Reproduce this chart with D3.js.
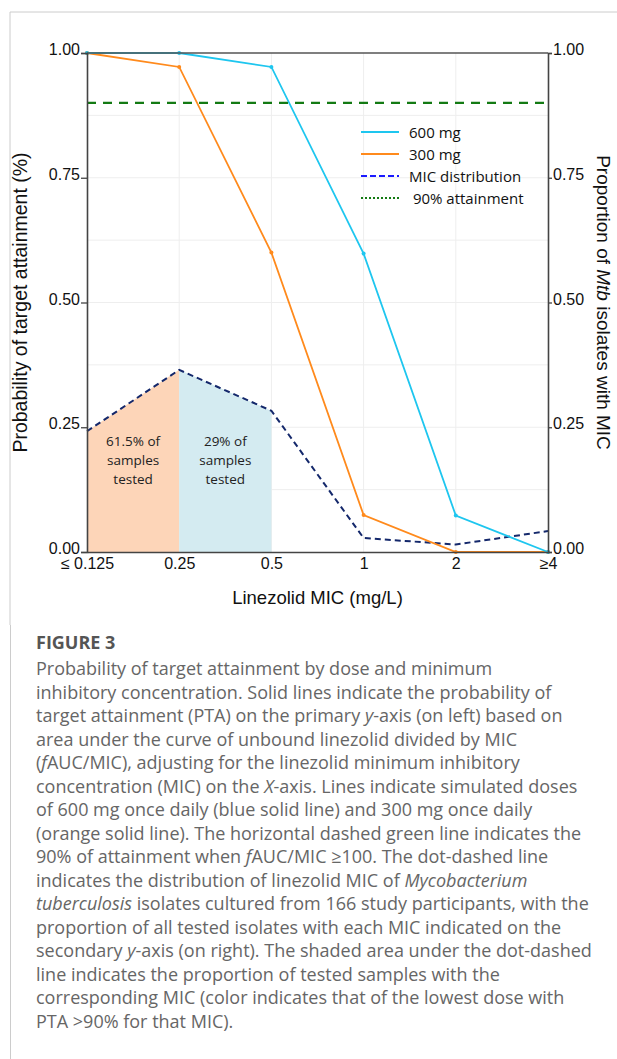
<!DOCTYPE html>
<head>
  <meta charset="utf-8">
  <script src="https://d3js.org/d3.v7.min.js"></script>
  <style>
    body { margin:0; background:#fff; }
    .caption { position:absolute; left:36px; top:631px; white-space:nowrap; font-family:"Open Sans", sans-serif; color:#666; font-size:18px; line-height:23.5px; }
    .caption b { color:#555; font-size:18px; display:block; margin-bottom:2.5px; }
  </style>
</head>
<body>
  <svg id="chart" width="617" height="625" style="position:absolute;left:0;top:0"></svg>
  <div class="caption">
    <b>FIGURE 3</b>
    Probability of target attainment by dose and minimum<br>
    inhibitory concentration. Solid lines indicate the probability of<br>
    target attainment (PTA) on the primary <i>y</i>-axis (on left) based on<br>
    area under the curve of unbound linezolid divided by MIC<br>
    (<i>f</i>AUC/MIC), adjusting for the linezolid minimum inhibitory<br>
    concentration (MIC) on the <i>X</i>-axis. Lines indicate simulated doses<br>
    of 600 mg once daily (blue solid line) and 300 mg once daily<br>
    (orange solid line). The horizontal dashed green line indicates the<br>
    90% of attainment when <i>f</i>AUC/MIC ≥100. The dot-dashed line<br>
    indicates the distribution of linezolid MIC of <i>Mycobacterium</i><br>
    <i>tuberculosis</i> isolates cultured from 166 study participants, with the<br>
    proportion of all tested isolates with each MIC indicated on the<br>
    secondary <i>y</i>-axis (on right). The shaded area under the dot-dashed<br>
    line indicates the proportion of tested samples with the<br>
    corresponding MIC (color indicates that of the lowest dose with<br>
    PTA &gt;90% for that MIC).
  </div>
  <script>

  var micLabels = ["≤ 0.125", "0.25", "0.5", "1", "2", "≥4"];
  var pta600 = [1.00, 1.00, 0.972, 0.598, 0.073, 0.00];
  var pta300 = [1.00, 0.972, 0.600, 0.074, 0.00, 0.00];
  var micDist = [0.242, 0.365, 0.283, 0.028, 0.015, 0.042];
  var target = 0.9;
  var yTicks = [0, 0.25, 0.5, 0.75, 1];
  var gridTicks = [0.125, 0.25, 0.375, 0.5, 0.625, 0.75, 0.875];
  var shadeLabels = [["61.5% of", "samples", "tested"], ["29% of", "samples", "tested"]];
  var legendItems = ["600 mg", "300 mg", "MIC distribution", " 90% attainment"];

  var margin = {top: 53, left: 87, right: 69, bottom: 73};
  var width = 617 - margin.left - margin.right;
  var height = 625 - margin.top - margin.bottom;

  var svg = d3.select("#chart");

  // page frame
  svg.append("line").attr("x1", 10).attr("x2", 10).attr("y1", 12).attr("y2", 1059).attr("stroke", "#ccc");
  svg.append("line").attr("x1", 10).attr("x2", 617).attr("y1", 12).attr("y2", 12).attr("stroke", "#ccc");
  d3.select("body").append("div")
    .style("position", "absolute").style("left", "10px").style("top", "625px")
    .style("width", "1px").style("height", "434px").style("background", "#ccc");

  var g = svg.append("g").attr("transform", "translate(" + margin.left + "," + margin.top + ")");

  var x = d3.scalePoint().domain(micLabels).range([0, width]);
  var y = d3.scaleLinear().domain([0, 1]).range([height, 0]);

  // faint grid
  g.selectAll(".hgrid").data(gridTicks).enter().append("line")
    .attr("x1", 0).attr("x2", width)
    .attr("y1", function(d) { return y(d); }).attr("y2", function(d) { return y(d); })
    .attr("stroke", "#eee");
  g.selectAll(".vgrid").data(micLabels.slice(1, -1)).enter().append("line")
    .attr("x1", function(d) { return x(d); }).attr("x2", function(d) { return x(d); })
    .attr("y1", 0).attr("y2", height)
    .attr("stroke", "#eee");

  // shaded areas under MIC distribution
  var shadeColors = ["#fdd5b8", "#d4ebf1"];
  [0, 1].forEach(function(i) {
    var pts = [[x(micLabels[i]), y(0)], [x(micLabels[i]), y(micDist[i])],
               [x(micLabels[i + 1]), y(micDist[i + 1])], [x(micLabels[i + 1]), y(0)]];
    g.append("path").attr("d", "M" + pts.join("L") + "Z").attr("fill", shadeColors[i]);
    var cx = (x(micLabels[i]) + x(micLabels[i + 1])) / 2;
    g.append("text")
      .attr("x", cx).attr("y", y(0.25) + 19)
      .attr("text-anchor", "middle")
      .style("font-family", "'Open Sans', sans-serif").style("font-size", "13.5px").attr("fill", "#222")
      .selectAll("tspan").data(shadeLabels[i]).enter().append("tspan")
      .attr("x", cx).attr("dy", function(d, j) { return j ? 19 : 0; })
      .text(function(d) { return d; });
  });

  var line = d3.line()
    .x(function(d, i) { return x(micLabels[i]); })
    .y(function(d) { return y(d); });

  // target line
  g.append("line").attr("x1", 0).attr("x2", width)
    .attr("y1", y(target)).attr("y2", y(target))
    .attr("stroke", "#137a13").attr("stroke-width", 2.2).attr("stroke-dasharray", "9,7");

  g.append("path").datum(micDist).attr("d", line)
    .attr("fill", "none").attr("stroke", "#14286b").attr("stroke-width", 2).attr("stroke-dasharray", "6,4");

  g.append("path").datum(pta300).attr("d", line)
    .attr("fill", "none").attr("stroke", "#ff8a1c").attr("stroke-width", 1.8);
  g.append("path").datum(pta600).attr("d", line)
    .attr("fill", "none").attr("stroke", "#1ec6ef").attr("stroke-width", 1.8);

  g.selectAll(".p300").data(pta300).enter().append("circle")
    .attr("cx", function(d, i) { return x(micLabels[i]); }).attr("cy", function(d) { return y(d); })
    .attr("r", 2).attr("fill", "#ff8a1c");
  g.selectAll(".p600").data(pta600).enter().append("circle")
    .attr("cx", function(d, i) { return x(micLabels[i]); }).attr("cy", function(d) { return y(d); })
    .attr("r", 2).attr("fill", "#1ec6ef");

  // frame: top border
  g.append("line").attr("x1", 0).attr("x2", width).attr("y1", 0).attr("y2", 0).attr("stroke", "#555").attr("stroke-width", 1.5);

  var fmt = d3.format(".2f");
  var axisLeft = g.append("g").call(d3.axisLeft(y).tickValues(yTicks).tickFormat(fmt).tickSize(6));
  var axisRight = g.append("g").attr("transform", "translate(" + width + ",0)")
    .call(d3.axisRight(y).tickValues(yTicks).tickFormat(fmt).tickSize(4));
  var axisBottom = g.append("g").attr("transform", "translate(0," + height + ")")
    .call(d3.axisBottom(x).tickSize(0));

  [axisLeft, axisRight, axisBottom].forEach(function(a) {
    a.attr("font-size", null).attr("font-family", null);
    a.selectAll("path").attr("stroke", "#444").attr("stroke-width", 1.6);
    a.selectAll("line").attr("stroke", "#444").attr("stroke-width", 1.3);
    a.selectAll("text").style("font-family", "'Liberation Sans', Arial, sans-serif").style("font-size", "16px").attr("fill", "#111");
  });
  axisLeft.selectAll("text").attr("x", -7).attr("dy", "0.1em");
  axisRight.selectAll("text").attr("x", 5).attr("dy", "0.1em");
  axisBottom.selectAll("text").attr("y", 4).attr("dy", "0.8em");

  // axis titles
  svg.append("text")
    .attr("transform", "translate(27," + (margin.top + height / 2) + ") rotate(-90)")
    .attr("text-anchor", "middle")
    .style("font-family", "'Liberation Sans', Arial, sans-serif").style("font-size", "19.5px").attr("fill", "#111")
    .text("Probability of target attainment (%)");

  var rt = svg.append("text")
    .attr("transform", "translate(597," + (margin.top + height / 2) + ") rotate(90)")
    .attr("text-anchor", "middle")
    .style("font-family", "'Liberation Sans', Arial, sans-serif").style("font-size", "19px").attr("fill", "#111");
  rt.append("tspan").text("Proportion of ");
  rt.append("tspan").style("font-style", "italic").text("Mtb");
  rt.append("tspan").text(" isolates with MIC");

  svg.append("text")
    .attr("x", margin.left + width / 2).attr("y", 604)
    .attr("text-anchor", "middle")
    .style("font-family", "'Liberation Sans', Arial, sans-serif").style("font-size", "18.5px").attr("fill", "#111")
    .text("Linezolid MIC (mg/L)");

  // legend
  var legendStyles = [
    {color: "#1ec6ef", dash: null, w: 2},
    {color: "#ff8a1c", dash: null, w: 2},
    {color: "#1a1aff", dash: "6,3", w: 2},
    {color: "#137a13", dash: "2,2", w: 2}
  ];
  var legend = svg.append("g").attr("transform", "translate(361,132)");
  legendItems.forEach(function(name, i) {
    var row = legend.append("g").attr("transform", "translate(0," + (i * 22) + ")");
    row.append("line").attr("x1", 0).attr("x2", 38).attr("y1", 0).attr("y2", 0)
      .attr("stroke", legendStyles[i].color).attr("stroke-width", legendStyles[i].w)
      .attr("stroke-dasharray", legendStyles[i].dash);
    row.append("text").attr("x", 48).attr("y", 5.5)
      .style("font-family", "'Open Sans', sans-serif").style("font-size", "15px").attr("fill", "#111")
      .attr("xml:space", "preserve").style("white-space", "pre")
      .text(name);
  });

  </script>
</body>
